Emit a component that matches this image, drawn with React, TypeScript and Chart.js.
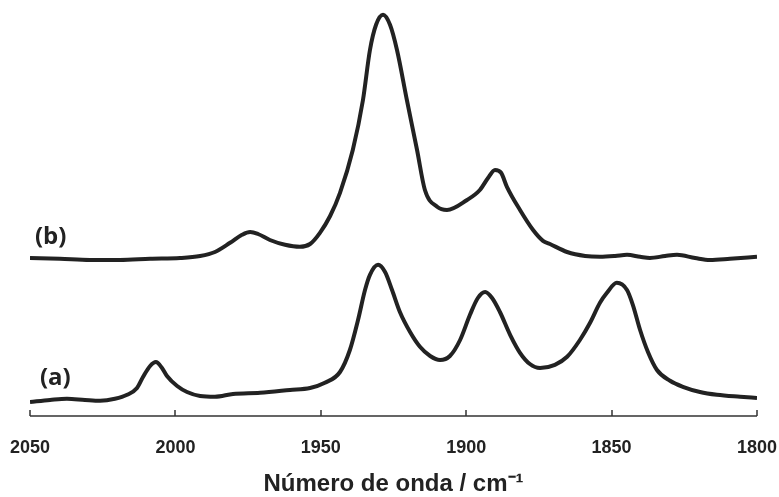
import React, { useEffect, useRef } from 'react';
import { Chart, registerables } from 'chart.js';

Chart.register(...registerables);

// X axis ticks (wavenumber, cm-1), axis runs from high to low
const tickValues = [2050, 2000, 1950, 1900, 1850, 1800];
const xTitle = 'Número de onda / cm⁻¹';
const seriesLabels = ['(a)', '(b)'];

// Series (a): lower spectrum
const waveA = [
  2050, 2043.1, 2037.3, 2031.1, 2025.9, 2020.8, 2016.6, 2013.2, 2011.1, 2008.7,
  2006.7, 2004.6, 2002.9, 1999.4, 1996.0, 1991.5, 1986.4, 1980.2, 1970.9, 1960.6,
  1953.7, 1948.6, 1943.4, 1940.0, 1937.2, 1934.8, 1933.1, 1930.3, 1927.9, 1925.5,
  1922.8, 1919.3, 1915.9, 1912.4, 1909.0, 1905.6, 1902.1, 1898.7, 1896.0, 1893.5,
  1891.1, 1888.4, 1884.9, 1881.5, 1878.1, 1874.6, 1869.5, 1865.3, 1860.9, 1857.4,
  1854.0, 1851.6, 1848.2, 1844.7, 1842.7, 1840.2, 1837.5, 1834.4, 1829.9, 1825.5,
  1819.6, 1813.8, 1805.8, 1800.0,
];
const absA = [
  0.035, 0.040, 0.043, 0.040, 0.038, 0.043, 0.053, 0.070, 0.098, 0.125,
  0.135, 0.120, 0.100, 0.075, 0.060, 0.050, 0.048, 0.055, 0.058, 0.065,
  0.070, 0.083, 0.110, 0.165, 0.240, 0.315, 0.353, 0.378, 0.360, 0.315,
  0.260, 0.210, 0.173, 0.150, 0.140, 0.150, 0.190, 0.253, 0.295, 0.310,
  0.295, 0.260, 0.203, 0.158, 0.130, 0.120, 0.128, 0.148, 0.190, 0.233,
  0.283, 0.308, 0.333, 0.315, 0.278, 0.215, 0.160, 0.115, 0.088, 0.073,
  0.060, 0.053, 0.048, 0.045,
];

// Series (b): upper spectrum
const waveB = [
  2050, 2039.7, 2029.4, 2019.1, 2008.7, 1998.4, 1991.5, 1986.4, 1981.2, 1977.1,
  1974.3, 1971.6, 1967.5, 1962.3, 1957.2, 1953.7, 1950.3, 1946.8, 1943.4, 1939.0,
  1935.5, 1933.1, 1931.0, 1928.6, 1926.2, 1923.8, 1920.4, 1916.9, 1914.2, 1910.0,
  1906.6, 1899.7, 1895.3, 1892.5, 1890.1, 1888.0, 1886.0, 1881.5, 1877.0, 1873.6,
  1871.2, 1865.3, 1859.1, 1854.0, 1848.8, 1844.7, 1840.2, 1836.8, 1831.6, 1827.5,
  1821.3, 1816.2, 1809.3, 1800.0,
];
const absB = [
  0.395, 0.393, 0.390, 0.390, 0.393, 0.395, 0.400, 0.410, 0.433, 0.453,
  0.460, 0.455, 0.440, 0.428, 0.423, 0.430, 0.458, 0.500, 0.558, 0.665,
  0.790, 0.915, 0.978, 1.003, 0.978, 0.915, 0.790, 0.665, 0.565, 0.523,
  0.515, 0.540, 0.565, 0.595, 0.615, 0.608, 0.573, 0.515, 0.465, 0.438,
  0.430, 0.410, 0.400, 0.398, 0.400, 0.403, 0.398, 0.395, 0.400, 0.403,
  0.395, 0.390, 0.393, 0.398,
];

// label anchors in data units [wavenumber, absorbance]
const labelAnchors = [
  [2046.6, 0.095],
  [2048.3, 0.448],
];

const toPoints = (xs: number[], ys: number[]) => xs.map((x, i) => ({ x, y: ys[i] }));

const ink = '#222222';

const decorPlugin = {
  id: 'decor',
  afterDraw(chart: any) {
    const { ctx, chartArea, scales } = chart;
    const xs = scales.x;
    const ys = scales.y;
    ctx.save();
    ctx.strokeStyle = '#333333';
    ctx.lineWidth = 1.5;
    ctx.beginPath();
    const x0 = xs.getPixelForValue(tickValues[0]);
    const x1 = xs.getPixelForValue(tickValues[tickValues.length - 1]);
    const yb = chartArea.bottom;
    ctx.moveTo(x0, yb);
    ctx.lineTo(x1, yb);
    tickValues.forEach((v) => {
      const px = Math.round(xs.getPixelForValue(v));
      ctx.moveTo(px, yb);
      ctx.lineTo(px, yb - 6);
    });
    ctx.stroke();

    ctx.fillStyle = ink;
    ctx.font = 'bold 24px "Open Sans", "Liberation Sans", sans-serif';
    ctx.textAlign = 'left';
    ctx.textBaseline = 'middle';
    seriesLabels.forEach((lab, i) => {
      const [wx, wy] = labelAnchors[i];
      ctx.fillText(lab, xs.getPixelForValue(wx), ys.getPixelForValue(wy));
    });
    ctx.restore();
  },
};

export default function App() {
  const ref = useRef<HTMLCanvasElement | null>(null);

  useEffect(() => {
    if (!ref.current) return;
    const chart = new Chart(ref.current, {
      type: 'line',
      data: {
        datasets: [
          {
            label: seriesLabels[0],
            data: toPoints(waveA, absA),
            borderColor: ink,
            borderWidth: 4,
            pointRadius: 0,
            fill: false,
            cubicInterpolationMode: 'monotone',
          },
          {
            label: seriesLabels[1],
            data: toPoints(waveB, absB),
            borderColor: ink,
            borderWidth: 4,
            pointRadius: 0,
            fill: false,
            cubicInterpolationMode: 'monotone',
          },
        ],
      },
      options: {
        animation: false,
        responsive: true,
        maintainAspectRatio: false,
        layout: { padding: { top: 6, left: 30, right: 22, bottom: 0 } },
        plugins: {
          legend: { display: false },
          tooltip: { enabled: false },
        },
        scales: {
          x: {
            type: 'linear',
            reverse: true,
            min: 1800,
            max: 2050,
            afterFit: (scale: any) => {
              scale.height = 81;
              scale.paddingLeft = 0;
              scale.paddingRight = 0;
            },
            afterBuildTicks: (scale: any) => {
              scale.ticks = tickValues.map((v) => ({ value: v }));
            },
            grid: { display: false, drawTicks: false },
            border: { display: false },
            ticks: {
              padding: 21,
              color: ink,
              callback: (v: any) => String(v),
              font: { family: '"Liberation Sans", Arial, sans-serif', size: 18, weight: 'bold' },
            },
            title: {
              display: true,
              text: xTitle,
              color: ink,
              padding: { top: 0, bottom: -2 },
              font: { family: '"Liberation Sans", Arial, sans-serif', size: 24, weight: 'bold' },
            },
          },
          y: {
            display: false,
            min: 0,
            max: 1.025,
          },
        },
      },
      plugins: [decorPlugin],
    } as any);
    return () => chart.destroy();
  }, []);

  return (
    <div style={{ position: 'absolute', left: 0, top: 0, width: 779, height: 497, background: '#ffffff' }}>
      <canvas ref={ref} />
    </div>
  );
}
